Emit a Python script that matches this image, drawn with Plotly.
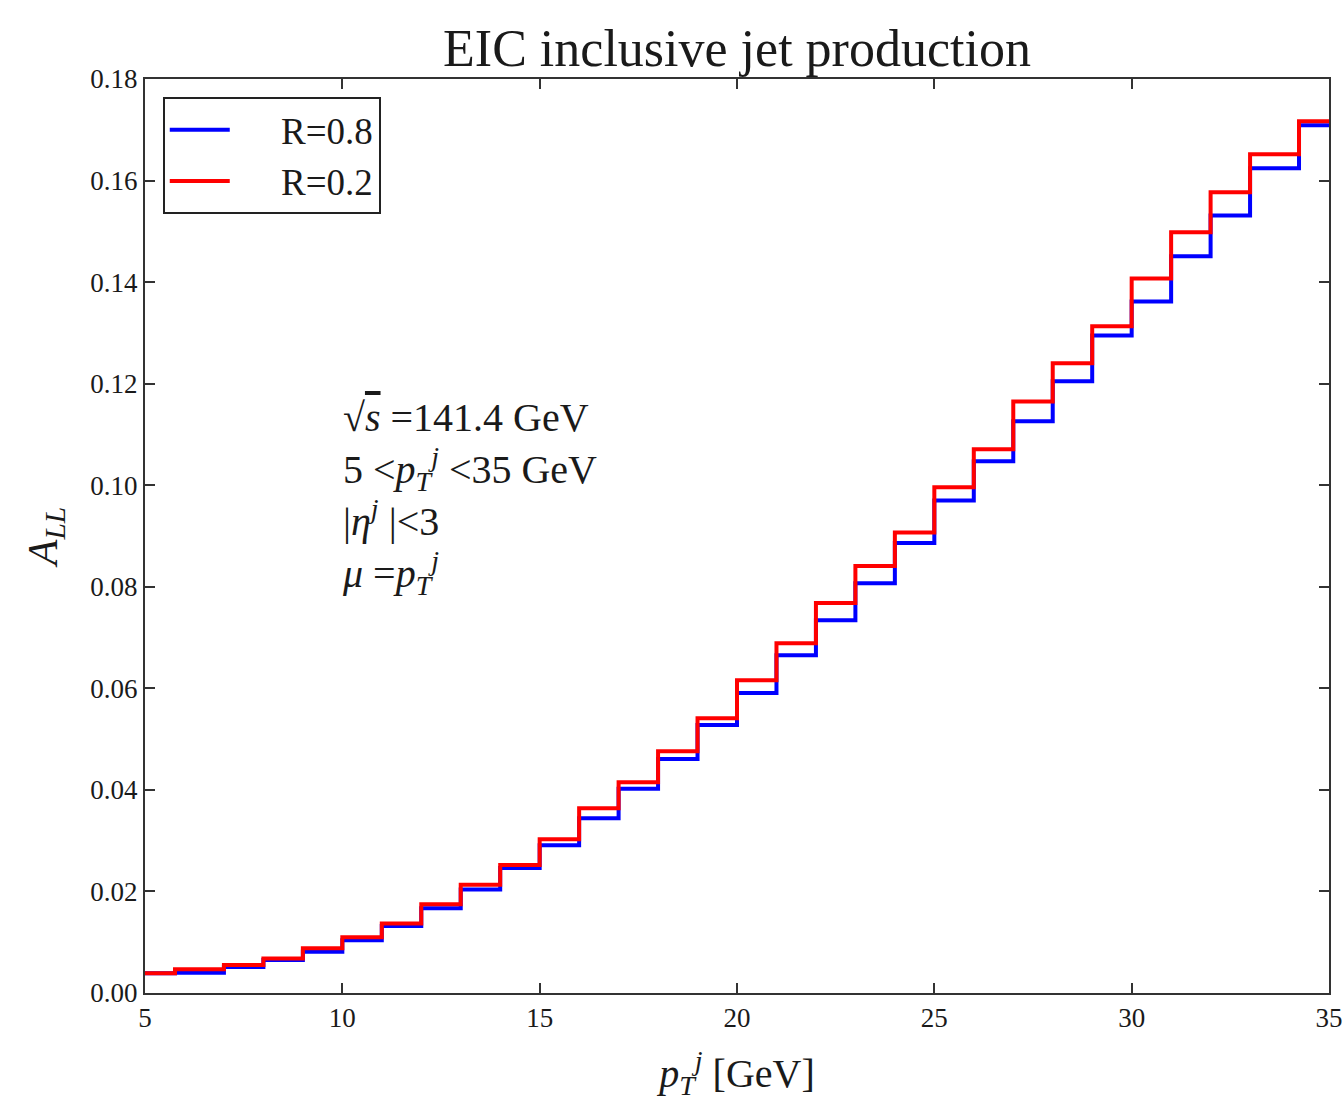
import plotly.graph_objects as go

# bin edges of the step histogram (pT^j, GeV)
bin_edges = [5, 5.76, 7, 8, 9, 10, 11, 12, 13, 14, 15, 16, 17, 18, 19, 20,
             21, 22, 23, 24, 25, 26, 27, 28, 29, 30, 31, 32, 33, 34.24, 35]

# A_LL per bin
all_r08 = [0.0039, 0.0040, 0.0051, 0.0065, 0.0081, 0.0104, 0.0132, 0.0167,
           0.0204, 0.0246, 0.0291, 0.0344, 0.0402, 0.0461, 0.0528, 0.0591,
           0.0665, 0.0734, 0.0807, 0.0886, 0.0970, 0.1047, 0.1126, 0.1205,
           0.1295, 0.1362, 0.1451, 0.1531, 0.1624, 0.1709]
all_r02 = [0.0039, 0.0047, 0.0055, 0.0068, 0.0088, 0.0110, 0.0137, 0.0175,
           0.0213, 0.0252, 0.0303, 0.0364, 0.0415, 0.0476, 0.0541, 0.0616,
           0.0689, 0.0768, 0.0841, 0.0907, 0.0996, 0.1071, 0.1165, 0.1240,
           0.1313, 0.1407, 0.1498, 0.1577, 0.1652, 0.1717]

series_names = ["R=0.8", "R=0.2"]
series_colors = ["#0000ff", "#ff0000"]

x_ticks = [5, 10, 15, 20, 25, 30, 35]
y_ticks = [0.00, 0.02, 0.04, 0.06, 0.08, 0.10, 0.12, 0.14, 0.16, 0.18]

SERIF = "Liberation Serif, Times New Roman, serif"
INK = "#1a1a1a"

fig = go.Figure()
for name, vals, col in zip(series_names, [all_r08, all_r02], series_colors):
    fig.add_trace(go.Scatter(
        x=bin_edges,
        y=vals + [vals[-1]],
        mode="lines",
        line=dict(color=col, width=4, shape="hv"),
        name="\u00a0\u00a0\u00a0\u00a0\u00a0" + name,
    ))

axis_common = dict(
    showline=True, linecolor="#333333", linewidth=2, mirror="ticks",
    ticks="inside", ticklen=10, tickwidth=1.5, tickcolor="#333333",
    showgrid=False, zeroline=False, automargin=False,
    tickfont=dict(family=SERIF, size=27, color=INK),
)

fig.update_xaxes(range=[5, 35], tickvals=x_ticks, ticktext=[str(v) for v in x_ticks],
                 title=dict(text="<i>p</i><sub><i>T</i></sub><sup><i>j</i></sup> [GeV]",
                            font=dict(family=SERIF, size=40, color=INK), standoff=28),
                 **axis_common)
fig.update_yaxes(range=[0, 0.18], tickvals=y_ticks, ticktext=[f"{v:.2f}" for v in y_ticks],
                 title=dict(text="<i>A</i><sub><i>LL</i></sub>",
                            font=dict(family=SERIF, size=42, color=INK), standoff=20),
                 **axis_common)

fig.add_annotation(
    xref="paper", yref="paper", x=(340 - 145) / 1184, y=(993 - 393) / 914,
    xanchor="left", yanchor="top", align="left", showarrow=False,
    text=("√<span style='text-decoration:overline'><i>s</i></span> =141.4 GeV<br>"
          "5 &lt;<i>p</i><sub><i>T</i></sub><sup><i>j</i></sup> &lt;35 GeV<br>"
          "|<i>η</i><sup><i>j</i></sup> |&lt;3<br>"
          "<i>μ</i> =<i>p</i><sub><i>T</i></sub><sup><i>j</i></sup>"),
    font=dict(family=SERIF, size=40, color=INK),
)

fig.update_layout(
    width=1344, height=1101,
    margin=dict(l=145, r=15, t=79, b=108, autoexpand=False),
    paper_bgcolor="white", plot_bgcolor="white",
    title=dict(text="EIC inclusive jet production", x=(737) / 1344, xanchor="center",
               y=1 - 48 / 1101, yanchor="middle",
               font=dict(family=SERIF, size=52, color=INK)),
    legend=dict(x=0.015, y=0.98, xanchor="left", yanchor="top",
                bordercolor="#222222", borderwidth=2, bgcolor="white",
                font=dict(family=SERIF, size=37, color=INK),
                itemwidth=60),
    showlegend=True,
)

fig.write_html("out.html")
